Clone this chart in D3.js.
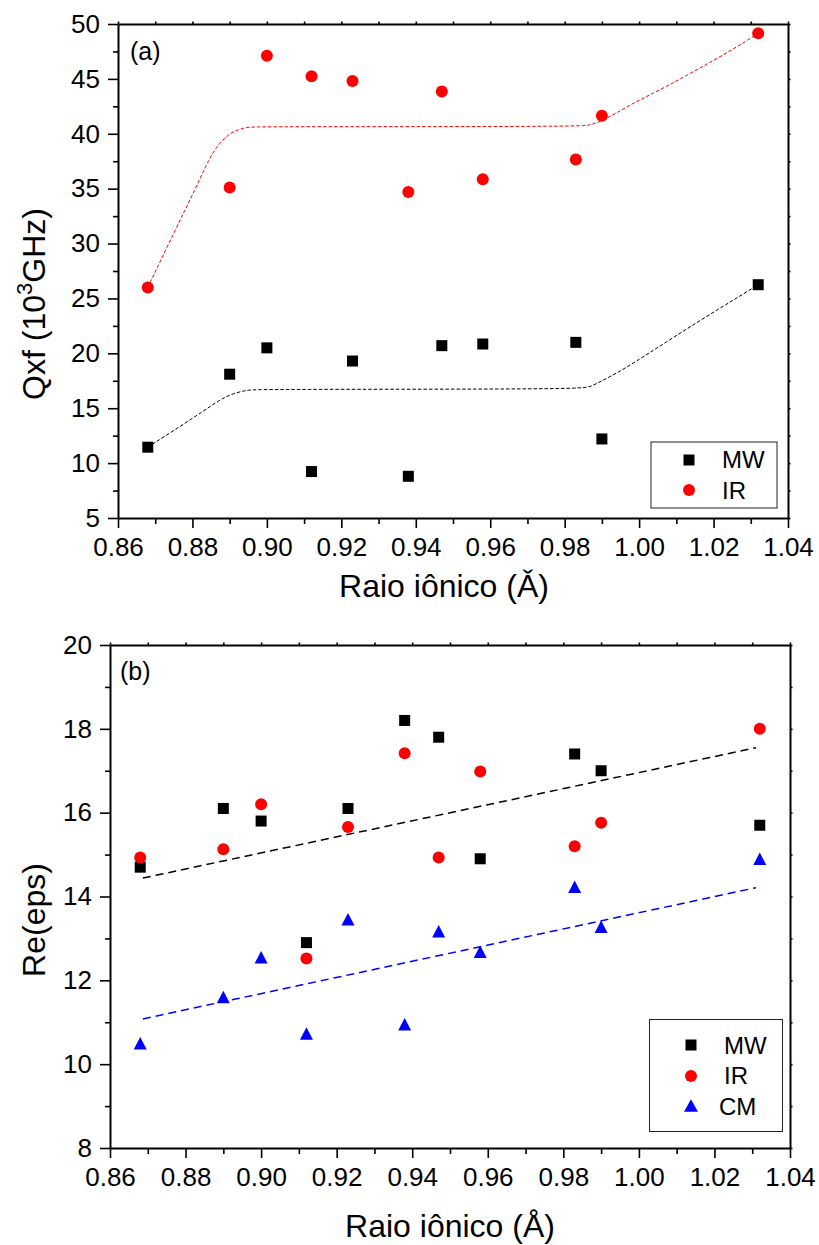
<!DOCTYPE html>
<html>
<head>
<meta charset="utf-8">
<script src="https://cdn.jsdelivr.net/npm/d3@7/dist/d3.min.js"></script>
<style>
  html, body { margin: 0; padding: 0; background: #fff; }
  svg { display: block; font-family: "Liberation Sans", Arial, sans-serif; }
</style>
</head>
<body>
<svg id="chart" width="819" height="1245"></svg>
<script>
// Ionic radius of the dopant (Å)
const radius = [0.868, 0.89, 0.90, 0.912, 0.923, 0.938, 0.947, 0.958, 0.983, 0.99, 1.032];

// (a) Quality factor Qxf (10^3 GHz)
const qfMW = [11.45, 18.1, 20.5, 9.23, 19.3, 8.8, 20.7, 20.85, 21.0, 12.2, 26.25];
const qfIR = [26.0, 35.1, 47.1, 45.25, 44.8, 34.7, 43.85, 35.85, 37.65, 41.65, 49.15];

// (a) plateau trend curves
const fitIRx = [0.868, 0.8749, 0.8811, 0.8843, 0.8865, 0.8881, 0.8901, 0.8921, 0.8946, 0.8973, 0.984, 0.9868, 0.9895, 0.994, 0.9984, 1.0074, 1.0164, 1.0253, 1.032];
const fitIRy = [26.0, 30.9, 35.2, 37.6, 38.8, 39.4, 40.05, 40.35, 40.6, 40.65, 40.65, 40.8, 41.1, 41.9, 42.8, 44.3, 46.0, 47.7, 49.15];
const fitMWx = [0.868, 0.882, 0.8874, 0.891, 0.8946, 0.8973, 0.984, 0.9868, 0.9895, 0.994, 0.9984, 1.0074, 1.0164, 1.0253, 1.032];
const fitMWy = [11.45, 14.5, 15.8, 16.35, 16.65, 16.73, 16.73, 16.95, 17.4, 18.2, 19.1, 21.05, 23.0, 24.85, 26.25];

// (b) Real part of permittivity
const epsMW = [14.7, 16.1, 15.8, 12.9, 16.1, 18.2, 17.8, 14.9, 17.4, 17.0, 15.7];
const epsIR = [14.93, 15.13, 16.2, 12.52, 15.66, 17.42, 14.93, 16.98, 15.2, 15.76, 18.0];
const epsCM = [10.5, 11.6, 12.55, 10.73, 13.46, 10.95, 13.17, 12.68, 14.23, 13.28, 14.9];

// (b) linear trends
const linMWx = [0.8687, 1.031];
const linMWy = [14.44, 17.55];
const linCMx = [0.8687, 1.031];
const linCMy = [11.08, 14.21];

// Axis ticks
const xTicks = [0.86, 0.88, 0.90, 0.92, 0.94, 0.96, 0.98, 1.00, 1.02, 1.04];
const xMinor = [0.87, 0.89, 0.91, 0.93, 0.95, 0.97, 0.99, 1.01, 1.03];
const yTicksA = [5, 10, 15, 20, 25, 30, 35, 40, 45, 50];
const yMinorA = [7.5, 12.5, 17.5, 22.5, 27.5, 32.5, 37.5, 42.5, 47.5];
const yTicksB = [8, 10, 12, 14, 16, 18, 20];
const yMinorB = [9, 11, 13, 15, 17, 19];

const RED = "#ff0000", BLUE = "#0000ff", BLACK = "#000000";
const svg = d3.select("#chart");
const FONT_TICK = 26, FONT_TITLE = 32, FONT_LEG = 24;

function drawFrame(g, x, y, yTicks, yMinor) {
  const [x0, x1] = x.range();
  const [y0, y1] = y.range(); // y0 bottom, y1 top
  const fmtX = d3.format(".2f");

  // bottom axis: major + minor
  g.append("g").attr("transform", `translate(0,${y0})`)
    .call(d3.axisBottom(x).tickValues(xTicks).tickFormat(fmtX).tickSize(10).tickSizeOuter(0).tickPadding(10));
  g.append("g").attr("transform", `translate(0,${y0})`)
    .call(d3.axisBottom(x).tickValues(xMinor).tickFormat("").tickSize(6).tickSizeOuter(0))
    .select(".domain").remove();
  // left axis
  g.append("g").attr("transform", `translate(${x0},0)`)
    .call(d3.axisLeft(y).tickValues(yTicks).tickFormat(d3.format("d")).tickSize(10).tickSizeOuter(0).tickPadding(8));
  g.append("g").attr("transform", `translate(${x0},0)`)
    .call(d3.axisLeft(y).tickValues(yMinor).tickFormat("").tickSize(5).tickSizeOuter(0))
    .select(".domain").remove();
  // top and right axes with short ticks
  g.append("g").attr("transform", `translate(0,${y1})`)
    .call(d3.axisTop(x).tickValues(xTicks.concat(xMinor)).tickFormat("").tickSize(2.5).tickSizeOuter(0));
  g.append("g").attr("transform", `translate(${x1},0)`)
    .call(d3.axisRight(y).tickValues(yTicks.concat(yMinor)).tickFormat("").tickSize(2.5).tickSizeOuter(0));

  g.selectAll(".domain").attr("stroke", "#000").attr("stroke-width", 2);
  g.selectAll(".tick line").attr("stroke", "#000").attr("stroke-width", 1.6);
  g.selectAll(".tick text").attr("fill", "#000")
    .attr("font-size", FONT_TICK).attr("font-family", "Liberation Sans, Arial, sans-serif");
  g.selectAll("g").attr("font-family", null).attr("font-size", null);
}

function squares(g, x, y, xs, ys, size) {
  g.selectAll(null).data(xs.map((d, i) => [d, ys[i]])).enter().append("rect")
    .attr("x", d => x(d[0]) - size / 2).attr("y", d => y(d[1]) - size / 2)
    .attr("width", size).attr("height", size).attr("fill", BLACK);
}
function circles(g, x, y, xs, ys, r) {
  g.selectAll(null).data(xs.map((d, i) => [d, ys[i]])).enter().append("circle")
    .attr("cx", d => x(d[0])).attr("cy", d => y(d[1])).attr("r", r).attr("fill", RED);
}
function triPath(cx, cy, w, h) {
  return `M${cx},${cy - h / 2}L${cx + w / 2},${cy + h / 2}L${cx - w / 2},${cy + h / 2}Z`;
}
function triangles(g, x, y, xs, ys) {
  g.selectAll(null).data(xs.map((d, i) => [d, ys[i]])).enter().append("path")
    .attr("d", d => triPath(x(d[0]), y(d[1]), 13, 12.5)).attr("fill", BLUE);
}
function trend(g, x, y, xs, ys, color, width, dash, curve) {
  const line = d3.line().x(d => x(d[0])).y(d => y(d[1]));
  if (curve) line.curve(curve);
  g.append("path").datum(xs.map((d, i) => [d, ys[i]]))
    .attr("d", line).attr("fill", "none").attr("stroke", color)
    .attr("stroke-width", width).attr("stroke-dasharray", dash);
}

// ---------- Panel (a) ----------
{
  const x = d3.scaleLinear().domain([0.86, 1.04]).range([118, 788]);
  const y = d3.scaleLinear().domain([5, 50]).range([518, 24]);
  const g = svg.append("g");

  trend(g, x, y, fitIRx, fitIRy, RED, 1, "3.5,2", d3.curveBasis);
  trend(g, x, y, fitMWx, fitMWy, BLACK, 1, "3.5,2", d3.curveBasis);
  squares(g, x, y, radius, qfMW, 11);
  circles(g, x, y, radius, qfIR, 6);

  drawFrame(g, x, y, yTicksA, yMinorA);

  g.append("text").attr("x", 130).attr("y", 60).attr("font-size", 25).text("(a)");

  g.append("text").attr("x", 444).attr("y", 597).attr("text-anchor", "middle")
    .attr("font-size", FONT_TITLE).text("Raio iônico (Ǎ)");

  const yt = g.append("text").attr("transform", "translate(45,304) rotate(-90)")
    .attr("text-anchor", "middle").attr("font-size", FONT_TITLE);
  yt.append("tspan").text("Qxf (10");
  yt.append("tspan").attr("font-size", 22).attr("dy", -13).text("3");
  yt.append("tspan").attr("dy", 13).text("GHz)");

  // legend
  const lg = g.append("g");
  lg.append("rect").attr("x", 651).attr("y", 442).attr("width", 126).attr("height", 66)
    .attr("fill", "#fff").attr("stroke", "#222").attr("stroke-width", 1);
  lg.append("rect").attr("x", 689 - 5.5).attr("y", 460 - 5.5).attr("width", 11).attr("height", 11).attr("fill", BLACK);
  lg.append("circle").attr("cx", 689).attr("cy", 490).attr("r", 6).attr("fill", RED);
  lg.append("text").attr("x", 722).attr("y", 468).attr("font-size", FONT_LEG).text("MW");
  lg.append("text").attr("x", 722).attr("y", 499).attr("font-size", FONT_LEG).text("IR");
}

// ---------- Panel (b) ----------
{
  const x = d3.scaleLinear().domain([0.86, 1.04]).range([110, 790]);
  const y = d3.scaleLinear().domain([8, 20]).range([1148, 645]);
  const g = svg.append("g");

  trend(g, x, y, linMWx, linMWy, BLACK, 1.5, "8,5");
  trend(g, x, y, linCMx, linCMy, BLUE, 1.5, "8,5");
  squares(g, x, y, radius, epsMW, 11);
  circles(g, x, y, radius, epsIR, 6);
  triangles(g, x, y, radius, epsCM);

  drawFrame(g, x, y, yTicksB, yMinorB);

  g.append("text").attr("x", 120).attr("y", 680).attr("font-size", 25).text("(b)");

  g.append("text").attr("x", 450).attr("y", 1237).attr("text-anchor", "middle")
    .attr("font-size", FONT_TITLE).text("Raio iônico (Å)");

  g.append("text").attr("transform", "translate(45,920) rotate(-90)")
    .attr("text-anchor", "middle").attr("font-size", FONT_TITLE).text("Re(eps)");

  const lg = g.append("g");
  lg.append("rect").attr("x", 649.5).attr("y", 1019.5).attr("width", 133).attr("height", 112)
    .attr("fill", "#fff").attr("stroke", "#222").attr("stroke-width", 1);
  lg.append("rect").attr("x", 691 - 5.5).attr("y", 1045 - 5.5).attr("width", 11).attr("height", 11).attr("fill", BLACK);
  lg.append("circle").attr("cx", 691).attr("cy", 1076).attr("r", 6).attr("fill", RED);
  lg.append("path").attr("d", triPath(691, 1105.5, 14, 12.5)).attr("fill", BLUE);
  lg.append("text").attr("x", 724).attr("y", 1054).attr("font-size", FONT_LEG).text("MW");
  lg.append("text").attr("x", 724).attr("y", 1084).attr("font-size", FONT_LEG).text("IR");
  lg.append("text").attr("x", 719).attr("y", 1115).attr("font-size", FONT_LEG).text("CM");
}
</script>
</body>
</html>
